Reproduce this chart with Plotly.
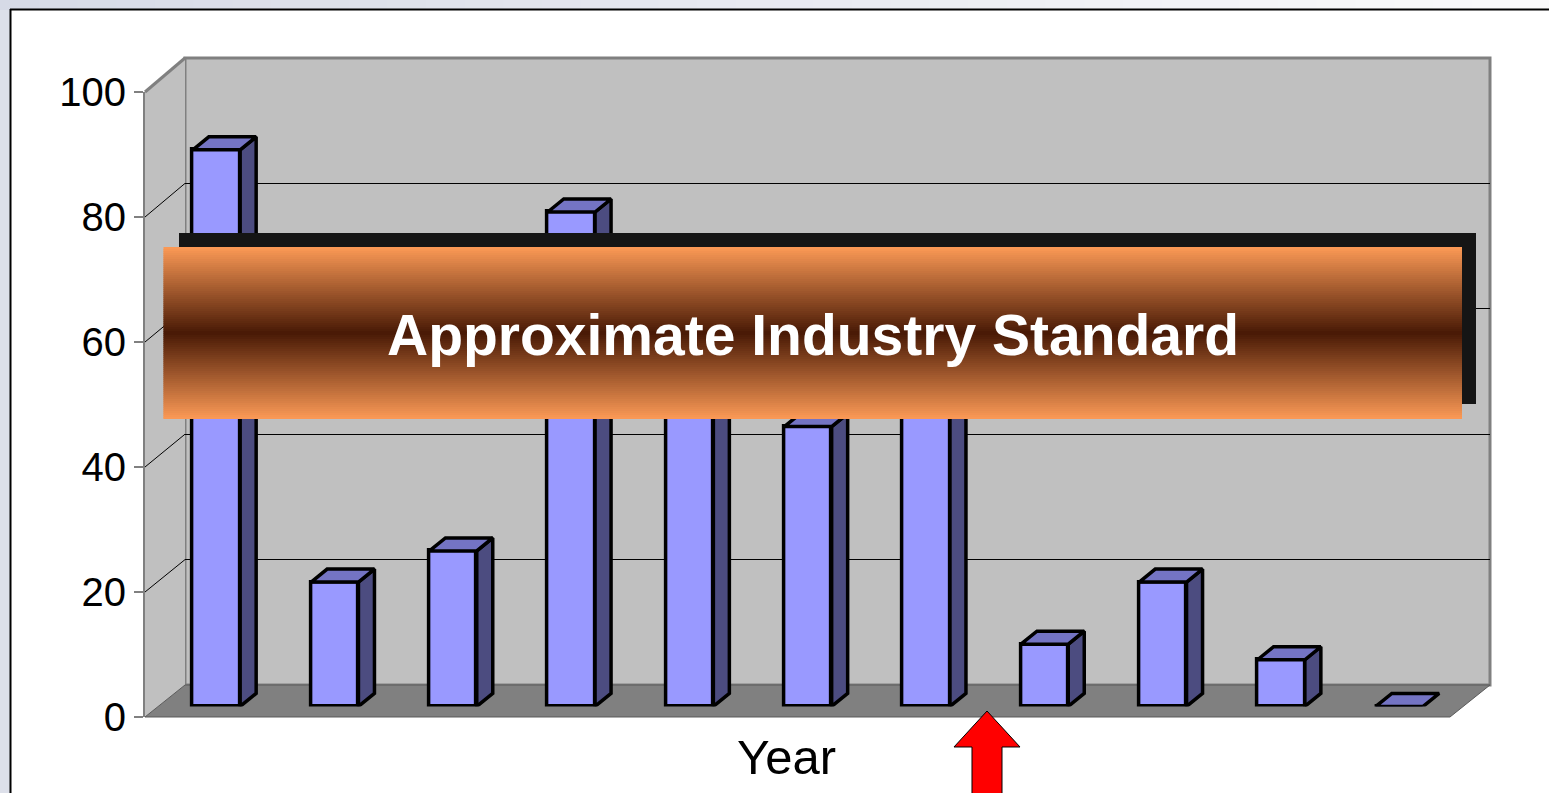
import plotly.graph_objects as go

# ---------------- data ----------------
categories = list(range(11))                       # 11 unlabelled year slots
values = [89.5, 20, 25, 79.5, 60, 45, 55, 10, 20, 7.5, 0]
y_ticks = [0, 20, 40, 60, 80, 100]
grid_vals = [20, 40, 60, 80]
axis_title = "Year"
banner_text = "Approximate Industry Standard"

# ---------------- geometry (pixels) ----------------
W, H = 1549, 793
FRONT_X, FRONT_Y0, FRONT_Y100 = 145, 717, 92
BACK_X0, BACK_X1, BACK_Y0, BACK_Y100 = 185, 1490, 685, 58
FLOOR_FX1 = 1450
BAR_X0, BAR_X1, BAR_Y0, BAR_Y100 = 157.35, 1458.65, 706.4, 84.5
BAR_W = 0.40
DEPTH_PX_X, DEPTH_PX_Y = 16, 13
EDGE_W = 3.5


def PX(x):
    return x / W


def PY(y):
    return 1 - y / H


def path(points):
    return "M " + " L ".join(f"{PX(x):.5f},{PY(y):.5f}" for x, y in points) + " Z"


def lerp(c1, c2, t):
    return "rgb(%d,%d,%d)" % tuple(round(a + (b - a) * t) for a, b in zip(c1, c2))


def front_y(v):
    return FRONT_Y0 + (FRONT_Y100 - FRONT_Y0) * v / 100


def back_y(v):
    return BACK_Y0 + (BACK_Y100 - BACK_Y0) * v / 100


# depth offsets expressed in bar-axis units
unit_x = (BAR_X1 - BAR_X0) / 11.0
unit_y = (BAR_Y0 - BAR_Y100) / 100.0
dx = DEPTH_PX_X / unit_x
dy = DEPTH_PX_Y / unit_y

FRONT_C = "#9999ff"
TOP_C = "#7474c4"
SIDE_C = "#4c4c80"

fig = go.Figure()

# placeholder traces so the wall-grid and front-axis subplots exist
fig.add_trace(go.Scatter(x=[None], y=[None], xaxis="x", yaxis="y", hoverinfo="skip", showlegend=False))

# side and top faces
for x, v in zip(categories, values):
    xl, xr = x - BAR_W / 2, x + BAR_W / 2
    if v > 0:
        fig.add_trace(go.Scatter(
            x=[xr, xr + dx, xr + dx, xr, xr], y=[0, dy, v + dy, v, 0],
            mode="lines", fill="toself", fillcolor=SIDE_C,
            line=dict(color="black", width=EDGE_W), xaxis="x2", yaxis="y2",
            hoverinfo="skip", showlegend=False))
    fig.add_trace(go.Scatter(
        x=[xl, xr, xr + dx, xl + dx, xl], y=[v, v, v + dy, v + dy, v],
        mode="lines", fill="toself", fillcolor=TOP_C,
        line=dict(color="black", width=EDGE_W), xaxis="x2", yaxis="y2",
        hoverinfo="skip", showlegend=False))

# front faces
fig.add_trace(go.Bar(
    x=categories, y=values, width=BAR_W,
    marker=dict(color=FRONT_C, line=dict(color="black", width=EDGE_W)),
    xaxis="x2", yaxis="y2", hoverinfo="skip", showlegend=False))

fig.add_trace(go.Scatter(x=[None], y=[None], xaxis="x3", yaxis="y3", hoverinfo="skip", showlegend=False))

shapes = []
# top page strip gradient
n = 40
for i in range(n):
    shapes.append(dict(type="rect", xref="paper", yref="paper", layer="below",
                       x0=PX(W * i / n), x1=PX(W * (i + 1) / n + 1), y0=PY(10), y1=PY(0),
                       fillcolor=lerp((214, 218, 230), (250, 250, 251), i / (n - 1)),
                       line=dict(width=0)))
# white slide area and its border
shapes.append(dict(type="rect", xref="paper", yref="paper", layer="below",
                   x0=PX(11), x1=1.0, y0=0, y1=PY(10), fillcolor="white", line=dict(width=0)))
shapes.append(dict(type="line", xref="paper", yref="paper", layer="below",
                   x0=PX(10), x1=1.0, y0=PY(9.5), y1=PY(9.5), line=dict(color="black", width=2)))
shapes.append(dict(type="line", xref="paper", yref="paper", layer="below",
                   x0=PX(10.5), x1=PX(10.5), y0=PY(9), y1=0, line=dict(color="black", width=2)))

# back wall
shapes.append(dict(type="rect", xref="paper", yref="paper", layer="below",
                   x0=PX(BACK_X0), x1=PX(BACK_X1), y0=PY(BACK_Y0), y1=PY(BACK_Y100),
                   fillcolor="#c0c0c0", line=dict(color="#808080", width=3)))
# left wall
shapes.append(dict(type="path", xref="paper", yref="paper", layer="below",
                   path=path([(FRONT_X, FRONT_Y100), (BACK_X0, BACK_Y100), (BACK_X0, BACK_Y0), (FRONT_X, FRONT_Y0)]),
                   fillcolor="#c0c0c0", line=dict(width=0)))
shapes.append(dict(type="line", xref="paper", yref="paper", layer="below",
                   x0=PX(FRONT_X), y0=PY(FRONT_Y100), x1=PX(BACK_X0), y1=PY(BACK_Y100),
                   line=dict(color="#808080", width=3)))
# floor
shapes.append(dict(type="path", xref="paper", yref="paper", layer="below",
                   path=path([(FRONT_X, FRONT_Y0), (BACK_X0, BACK_Y0), (BACK_X1, BACK_Y0), (FLOOR_FX1, FRONT_Y0)]),
                   fillcolor="#808080", line=dict(color="#5a5a5a", width=1)))
# left-wall grid diagonals
for v in grid_vals:
    shapes.append(dict(type="line", xref="paper", yref="paper", layer="below",
                       x0=PX(FRONT_X), y0=PY(front_y(v)), x1=PX(BACK_X0), y1=PY(back_y(v)),
                       line=dict(color="black", width=1)))

# banner shadow
shapes.append(dict(type="rect", xref="paper", yref="paper", layer="above",
                   x0=PX(179), x1=PX(1476), y0=PY(404), y1=PY(233),
                   fillcolor="#151515", line=dict(width=0)))
# banner gradient (orange -> dark brown -> orange)
B_TOP, B_BOT, B_L, B_R = 247, 419, 163.5, 1462
ORANGE, DARK = (252, 154, 86), (72, 25, 5)
steps = 86
h = (B_BOT - B_TOP) / steps
for i in range(steps):
    yc = B_TOP + (i + 0.5) * h
    t = 1 - abs(yc - (B_TOP + B_BOT) / 2) / ((B_BOT - B_TOP) / 2)
    y_bottom = min(B_TOP + (i + 1) * h + 1.5, B_BOT)
    shapes.append(dict(type="rect", xref="paper", yref="paper", layer="above",
                       x0=PX(B_L), x1=PX(B_R), y0=PY(y_bottom), y1=PY(B_TOP + i * h),
                       fillcolor=lerp(ORANGE, DARK, t), line=dict(width=0)))

# red arrow
shapes.append(dict(type="path", xref="paper", yref="paper", layer="above",
                   path=path([(987, 711), (1020, 747), (1002, 747), (1002, 800), (972, 800), (972, 747), (954, 747)]),
                   fillcolor="#ff0000", line=dict(color="black", width=1)))

annotations = [
    dict(text=banner_text, xref="paper", yref="paper", x=PX(813), y=PY(335),
         showarrow=False, font=dict(family="Liberation Sans, Arial", size=57, color="white", weight="bold"),
         xanchor="center", yanchor="middle"),
    dict(text=axis_title, xref="paper", yref="paper", x=PX(786), y=PY(757),
         showarrow=False, font=dict(family="Liberation Sans, Arial", size=49, color="black"),
         xanchor="center", yanchor="middle"),
]

hidden = dict(visible=False, automargin=False)
fig.update_layout(
    width=W, height=H, autosize=False,
    margin=dict(l=0, r=0, t=0, b=0, pad=0, autoexpand=False),
    paper_bgcolor="#dde0ea", plot_bgcolor="rgba(0,0,0,0)",
    showlegend=False, bargap=0,
    shapes=shapes, annotations=annotations,
    xaxis=dict(domain=[PX(BACK_X0), PX(BACK_X1)], range=[0, 1], anchor="y", automargin=False,
               showgrid=False, zeroline=False, showticklabels=False, ticks="", showline=False),
    yaxis=dict(domain=[PY(BACK_Y0), PY(BACK_Y100)], range=[0, 100], anchor="x", automargin=False,
               tickvals=grid_vals, showgrid=True, gridcolor="black", gridwidth=1,
               zeroline=False, showticklabels=False, ticks="", showline=False),
    xaxis2=dict(domain=[PX(BAR_X0), PX(BAR_X1)], range=[-0.5, 10.5], anchor="y2", **hidden),
    yaxis2=dict(domain=[PY(BAR_Y0), PY(BAR_Y100)], range=[0, 100], anchor="x2", **hidden),
    xaxis3=dict(domain=[PX(FRONT_X), PX(BACK_X0)], range=[0, 1], anchor="y3", **hidden),
    yaxis3=dict(domain=[PY(FRONT_Y0), PY(FRONT_Y100)], range=[0, 100], anchor="x3", automargin=False,
                tickvals=y_ticks, ticks="outside", ticklen=9, tickwidth=2, tickcolor="#808080",
                showline=True, linecolor="#808080", linewidth=2, showgrid=False, zeroline=False,
                tickfont=dict(family="Liberation Sans, Arial", size=40, color="black"),
                ticklabelstandoff=0),
)

fig.write_html("out.html")
